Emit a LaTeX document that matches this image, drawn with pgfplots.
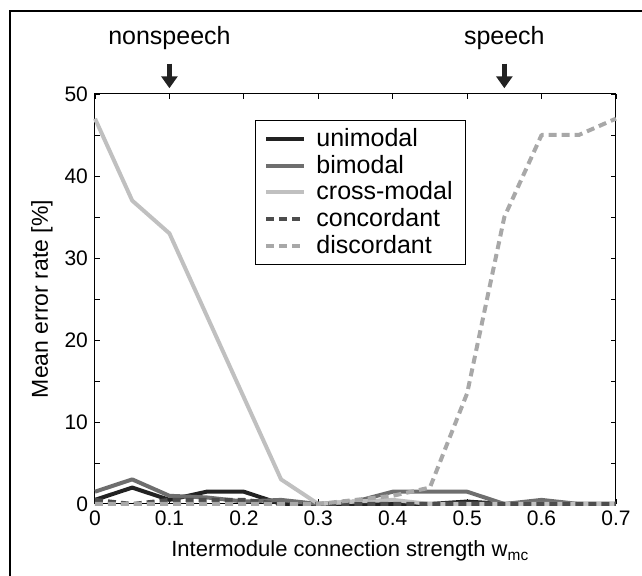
\documentclass[border=0pt]{standalone}
\usepackage{fontspec}
\setmainfont{Liberation Sans}
\usepackage{pgfplots}
\pgfplotsset{compat=1.18}
\usetikzlibrary{arrows.meta}

\definecolor{cuni}{HTML}{222222}
\definecolor{cbi}{HTML}{6E6E6E}
\definecolor{ccross}{HTML}{C0C0C0}
\definecolor{cconc}{HTML}{4D4D4D}
\definecolor{cdisc}{HTML}{A8A8A8}

\begin{document}
\begin{tikzpicture}
\useasboundingbox (-47.5pt,-36pt) rectangle (273.5pt,252pt);
\draw[line width=0.8pt] (-42.5pt,-40pt) -- (-42.5pt,246.5pt) -- (280pt,246.5pt);
\begin{axis}[
    at={(0,0)}, anchor=origin,
    scale only axis,
    width=260.5pt, height=205pt,
    xmin=0, xmax=0.7, ymin=0, ymax=50,
    xtick={0,0.1,...,0.7},
    xticklabels={0,0.1,0.2,0.3,0.4,0.5,0.6,0.7},
    ytick={0,10,...,50},
    minor ytick={5,15,...,45},
    tick align=inside,
    major tick length=2.5pt, minor tick length=2.5pt,
    tick style={black, line width=0.4pt},
    axis line style={line width=0.5pt},
    ticklabel style={font=\fontsize{10.5}{12}\selectfont},
    /pgf/number format/assume math mode=true,
    xlabel={Intermodule connection strength w\textsubscript{mc}},
    ylabel={Mean error rate [\%]},
    every axis x label/.style={at={(rel axis cs:0.49,0)}, anchor=base, yshift=-26.5pt,
        font=\fontsize{11}{12}\selectfont},
    every axis y label/.style={at={(rel axis cs:0,0.5)}, rotate=90, anchor=center,
        yshift=26.5pt, font=\fontsize{11.5}{13}\selectfont},
    clip=false,
    legend cell align=left,
    legend image code/.code={\draw[#1] (0pt,0pt) -- (19pt,0pt);},
    legend style={at={(rel axis cs:0.307,0.937)}, anchor=north west,
        font=\fontsize{12.5}{13}\selectfont, draw=black, line width=0.5pt,
        row sep=-1.2pt, inner xsep=4.5pt, inner ysep=2pt,
        /tikz/every odd column/.append style={column sep=3pt}},
    every axis plot/.append style={line width=2pt, line join=round},
]
\addplot[cuni] coordinates {(0,0.5) (0.05,2) (0.1,0.5) (0.15,1.5) (0.2,1.5) (0.25,0) (0.3,0) (0.35,0) (0.4,0) (0.45,0) (0.5,0.3) (0.55,0) (0.6,0) (0.65,0) (0.7,0)};
\addlegendentry{unimodal}
\addplot[cbi] coordinates {(0,1.5) (0.05,3) (0.1,1) (0.15,0.8) (0.2,0.3) (0.25,0.5) (0.3,0) (0.35,0.3) (0.4,1.5) (0.45,1.5) (0.5,1.5) (0.55,0) (0.6,0.5) (0.65,0) (0.7,0)};
\addlegendentry{bimodal}
\addplot[ccross] coordinates {(0,47) (0.05,37) (0.1,33) (0.15,23) (0.2,13) (0.25,3) (0.3,0) (0.35,0.3) (0.4,0.5) (0.45,0) (0.5,0) (0.55,0) (0.6,0) (0.65,0) (0.7,0)};
\addlegendentry{cross-modal}
\addplot[cconc, dash pattern=on 4pt off 2.5pt] coordinates {(0,0.5) (0.05,0) (0.1,0.5) (0.15,0.5) (0.2,0.5) (0.25,0) (0.3,0) (0.35,0) (0.4,0) (0.45,0) (0.5,0) (0.55,0) (0.6,0) (0.65,0) (0.7,0)};
\addlegendentry{concordant}
\addplot[cdisc, dash pattern=on 4pt off 2.5pt] coordinates {(0,0) (0.05,0) (0.1,0) (0.15,0) (0.2,0) (0.25,0) (0.3,0) (0.35,0.5) (0.4,1) (0.45,2) (0.5,13.5) (0.55,35) (0.6,45) (0.65,45) (0.7,47)};
\addlegendentry{discordant}
\draw[-{Triangle[length=6pt,width=8pt]}, line width=2.2pt, cuni] (axis cs:0.1,53.7) -- (axis cs:0.1,50.7);
\draw[-{Triangle[length=6pt,width=8pt]}, line width=2.2pt, cuni] (axis cs:0.55,53.7) -- (axis cs:0.55,50.7);
\node[font=\fontsize{12.5}{14}\selectfont] at (axis cs:0.1,56.8) {nonspeech};
\node[font=\fontsize{12.5}{14}\selectfont] at (axis cs:0.55,56.8) {speech};
\end{axis}
\end{tikzpicture}
\end{document}
